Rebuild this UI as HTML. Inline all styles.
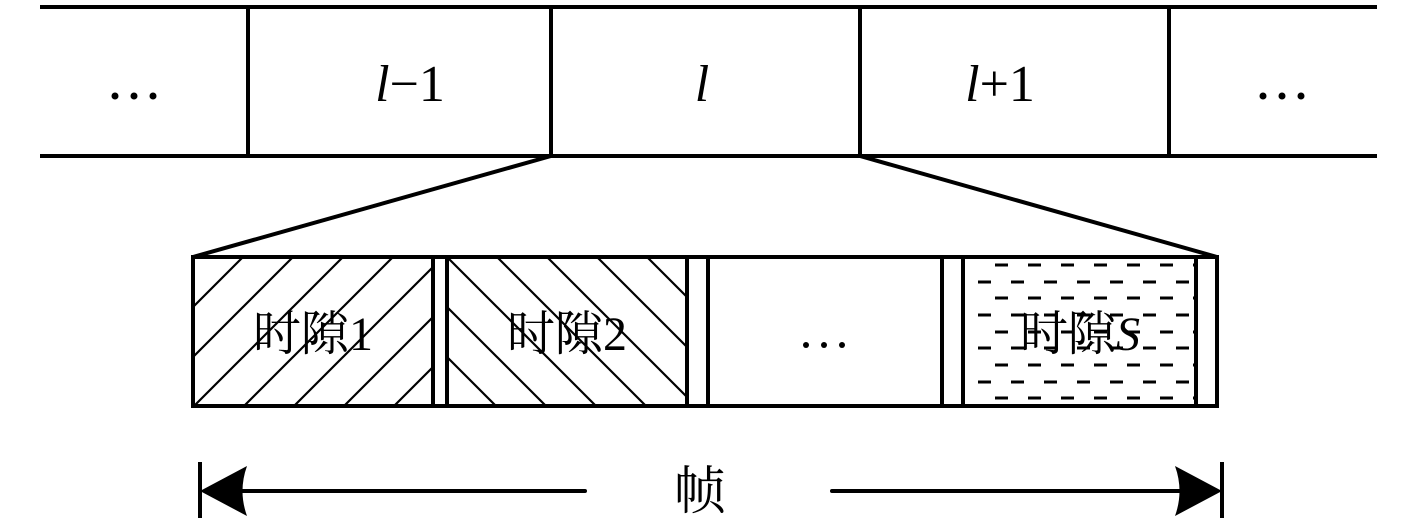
<!DOCTYPE html>
<html><head><meta charset="utf-8"><style>html,body{margin:0;padding:0;background:#fff}svg{display:block}
text{font-family:"Liberation Serif","DejaVu Serif","Noto Serif CJK SC","Noto Sans CJK SC",serif}
</style></head><body>
<svg width="1417" height="527" viewBox="0 0 1417 527" xmlns="http://www.w3.org/2000/svg">
<defs>
<pattern id="p1" patternUnits="userSpaceOnUse" x="193" y="257" width="50" height="50">
<path d="M-5,55 L55,-5 M-5,5 L5,-5 M45,55 L55,45" stroke="#000" stroke-width="2.2"/>
</pattern>
<pattern id="p2" patternUnits="userSpaceOnUse" x="447" y="257" width="50" height="50">
<path d="M-5,-5 L55,55 M45,-5 L55,5 M-5,45 L5,55" stroke="#000" stroke-width="2.2"/>
</pattern>
<clipPath id="cs"><rect x="963" y="257" width="233" height="149"/></clipPath>
</defs>
<g stroke="#000" stroke-width="4" fill="none">
<line x1="40" y1="7" x2="1377" y2="7"/>
<line x1="40" y1="156" x2="1377" y2="156"/>
<line x1="248" y1="7" x2="248" y2="156"/>
<line x1="551" y1="7" x2="551" y2="156"/>
<line x1="860" y1="7" x2="860" y2="156"/>
<line x1="1169" y1="7" x2="1169" y2="156"/>
<line x1="551" y1="156" x2="193" y2="257"/>
<line x1="860" y1="156" x2="1217" y2="257"/>
</g>
<rect x="193" y="257" width="240" height="149" fill="url(#p1)"/>
<rect x="447" y="257" width="240" height="149" fill="url(#p2)"/>
<g clip-path="url(#cs)" stroke="#000" stroke-width="3" stroke-dasharray="13 20">
<line x1="995" y1="265" x2="1196" y2="265"/>
<line x1="978" y1="282" x2="1196" y2="282"/>
<line x1="995" y1="298" x2="1196" y2="298"/>
<line x1="978" y1="315" x2="1196" y2="315"/>
<line x1="995" y1="332" x2="1196" y2="332"/>
<line x1="978" y1="348" x2="1196" y2="348"/>
<line x1="995" y1="365" x2="1196" y2="365"/>
<line x1="978" y1="382" x2="1196" y2="382"/>
<line x1="995" y1="398" x2="1196" y2="398"/>
</g>
<g stroke="#000" stroke-width="4" fill="none">
<rect x="193" y="257" width="1024" height="149"/>
<line x1="433" y1="257" x2="433" y2="406"/>
<line x1="447" y1="257" x2="447" y2="406"/>
<line x1="687" y1="257" x2="687" y2="406"/>
<line x1="708" y1="257" x2="708" y2="406"/>
<line x1="942" y1="257" x2="942" y2="406"/>
<line x1="963" y1="257" x2="963" y2="406"/>
<line x1="1196" y1="257" x2="1196" y2="406"/>
</g>
<g fill="#000">
<circle cx="115" cy="96" r="3.5"/><circle cx="134" cy="96" r="3.5"/><circle cx="153" cy="96" r="3.5"/>
<circle cx="1263" cy="96" r="3.5"/><circle cx="1282" cy="96" r="3.5"/><circle cx="1301" cy="96" r="3.5"/>
<circle cx="806" cy="345" r="3"/><circle cx="824" cy="345" r="3"/><circle cx="842" cy="345" r="3"/>
</g>
<g font-size="52" text-anchor="middle" fill="#000">
<text x="410" y="101"><tspan font-style="italic">l</tspan>−1</text>
<text x="702" y="101" font-style="italic">l</text>
<text x="1000" y="101"><tspan font-style="italic">l</tspan>+1</text>
</g>
<g font-size="48" text-anchor="middle" fill="#000">
<text x="313" y="350">时隙1</text>
<text x="567" y="350">时隙2</text>
<text x="1080" y="350">时隙<tspan font-style="italic">S</tspan></text>
<text x="700" y="509" font-size="52">帧</text>
</g>
<g stroke="#000" stroke-width="4">
<line x1="200" y1="462" x2="200" y2="518"/>
<line x1="1222" y1="462" x2="1222" y2="518"/>
<line x1="235" y1="491" x2="585" y2="491" stroke-linecap="round"/>
<line x1="832" y1="491" x2="1188" y2="491" stroke-linecap="round"/>
</g>
<path d="M200,491 L247,466 Q238,491 247,516 Z" fill="#000"/>
<path d="M1222,491 L1175,466 Q1184,491 1175,516 Z" fill="#000"/>
</svg>
</body></html>
